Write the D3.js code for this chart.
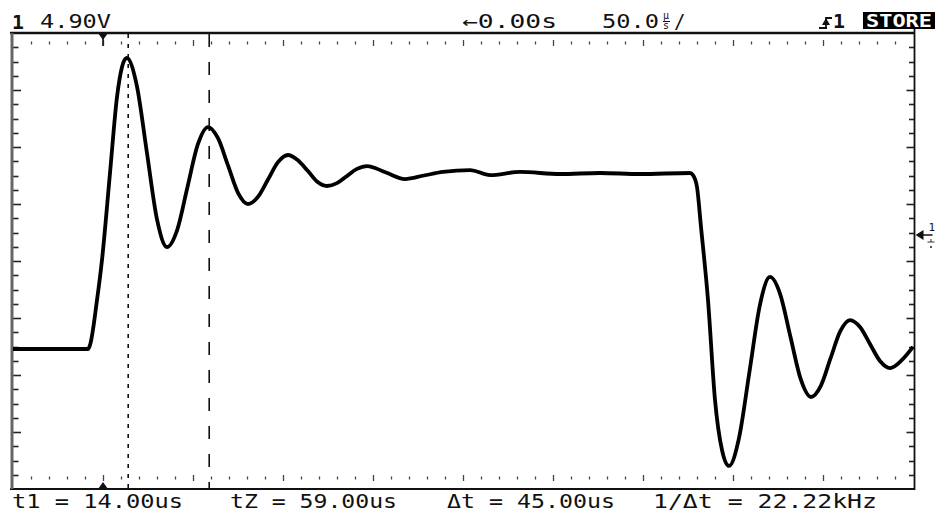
<!DOCTYPE html>
<html>
<head>
<meta charset="utf-8">
<script src="https://cdn.jsdelivr.net/npm/d3@7"></script>
<style>
  body { margin: 0; background: #fff; }
  svg { display: block; }
  text { font-family: "DejaVu Sans Mono", "Liberation Mono", monospace; fill: #111; }
</style>
</head>
<body>
<div id="scope"></div>
<script>
const SVG_WIDTH = 938;
const SVG_HEIGHT = 515;

// sweep: 50 us/div, 10 divs, trigger 1 div in from the left
const TIME_DOMAIN = [-50, 450];   // us
const VOLT_DOMAIN = [-20, 20];    // V, 8 divs
const X_DIVS = 10, X_MINOR = 5;
const Y_DIVS = 8, Y_MINOR = 4;

// trace (time in us, volts)
const timeUs = [-50, -8.33, -7.22, -3.33, -0.56, 3.89, 7.78, 10.56, 13.17, 18.78, 24.39, 30.0, 35.56,
  41.28, 46.94, 52.67, 58.33, 63.89, 69.44, 75.0, 80.56, 86.11, 91.67, 97.22, 102.78, 107.78, 113.61,
  118.89, 124.44, 130.0, 135.56, 141.11, 146.67, 157.22, 167.78, 178.33, 188.89, 203.89, 215.0, 231.67,
  253.89, 276.11, 298.33, 326.11, 327.78, 330.0, 332.22, 336.11, 340.0, 343.89, 347.78, 353.33, 359.17,
  365.0, 370.56, 376.28, 381.94, 387.67, 393.33, 398.78, 404.17, 409.61, 415.0, 420.56, 426.11, 431.67,
  437.22, 443.89, 450];
const volts = [-7.72, -7.72, -7.37, -3.42, 0.09, 7.72, 14.39, 17.02, 17.81, 15.39, 9.52, 3.65, 1.23,
  2.76, 6.49, 10.22, 11.75, 10.77, 8.38, 5.98, 5.0, 5.63, 7.15, 8.67, 9.30, 8.90, 7.94,
  6.97, 6.58, 6.83, 7.46, 8.08, 8.33, 7.76, 7.19, 7.50, 7.81, 7.98, 7.54, 7.81,
  7.63, 7.72, 7.63, 7.72, 7.54, 6.49, 2.98, -3.42, -12.19, -16.58, -17.98, -15.53, -9.69,
  -3.82, -1.40, -2.94, -6.67, -10.39, -11.93, -10.95, -8.55, -6.16, -5.18, -5.79, -7.28, -8.77,
  -9.39, -8.68, -7.54];

// cursors
const cursorTimes = [14, 59];
const cursorDash = ["4,6", "13,15"];

// screen annotations
const bottomLabels = ["t1 = 14.00us", "tZ = 59.00us", "\u0394t = 45.00us", "1/\u0394t = 22.22kHz"];
const bottomLabelX = [12, 230, 447, 653];
const bottomLabelW = [171, 167, 168, 224];

var svg = d3.select("#scope")
    .append("svg")
    .attr("width", SVG_WIDTH)
    .attr("height", SVG_HEIGHT);

svg.append("rect").attr("width", SVG_WIDTH).attr("height", SVG_HEIGHT).attr("fill", "#fff");

var x = d3.scaleLinear().domain(TIME_DOMAIN).range([13, 913]);
var y = d3.scaleLinear().domain(VOLT_DOMAIN).range([489, 33]);

var xLeft = x.range()[0], xRight = x.range()[1] + 1.5;
var yTop = y.range()[1], yBottom = y.range()[0];

////////// graticule //////////

var xStep = (TIME_DOMAIN[1] - TIME_DOMAIN[0]) / (X_DIVS * X_MINOR);
var xTicks = d3.range(0, X_DIVS * X_MINOR + 1).map(function(i) { return TIME_DOMAIN[0] + i * xStep; });
var yStep = (VOLT_DOMAIN[1] - VOLT_DOMAIN[0]) / (Y_DIVS * Y_MINOR);
var yTicks = d3.range(0, Y_DIVS * Y_MINOR + 1).map(function(i) { return VOLT_DOMAIN[0] + i * yStep; });

var grat = svg.append("g").attr("class", "graticule");

// top and bottom rows of little marks
[yTop + 10, yBottom - 11].forEach(function(rowY) {
    grat.selectAll(null)
        .data(xTicks.slice(1, -1))
        .enter()
        .append("line")
        .attr("x1", function(d) { return Math.round(x(d)) + 0.5; })
        .attr("x2", function(d) { return Math.round(x(d)) + 0.5; })
        .attr("y1", function(d, i) { return rowY - ((i + 1) % X_MINOR == 0 ? 3 : 1.5); })
        .attr("y2", function(d, i) { return rowY + ((i + 1) % X_MINOR == 0 ? 3 : 1.5); })
        .attr("stroke", "#444")
        .attr("stroke-width", 1.3);
});

// side ticks
[[xLeft, 1], [xRight, -1]].forEach(function(side) {
    grat.selectAll(null)
        .data(yTicks.slice(1, -1))
        .enter()
        .append("line")
        .attr("x1", side[0])
        .attr("x2", function(d, i) { return side[0] + side[1] * ((i + 1) % Y_MINOR == 0 ? 8 : 5.5); })
        .attr("y1", function(d) { return Math.round(y(d)) + 0.5; })
        .attr("y2", function(d) { return Math.round(y(d)) + 0.5; })
        .attr("stroke", "#222")
        .attr("stroke-width", 1.6);
});

// frame
grat.append("line").attr("x1", 10).attr("x2", xRight).attr("y1", yTop).attr("y2", yTop)
    .attr("stroke", "#111").attr("stroke-width", 2.4);
grat.append("line").attr("x1", 10).attr("x2", xRight).attr("y1", yBottom).attr("y2", yBottom)
    .attr("stroke", "#111").attr("stroke-width", 2);
grat.append("line").attr("x1", 12).attr("x2", 12).attr("y1", yTop).attr("y2", yBottom)
    .attr("stroke", "#666").attr("stroke-width", 3);
grat.append("line").attr("x1", xRight).attr("x2", xRight).attr("y1", 28).attr("y2", yBottom + 1)
    .attr("stroke", "#111").attr("stroke-width", 1.8);

// trigger position markers
var tx = x(0);
svg.append("path")
    .attr("d", "M" + (tx - 5) + "," + yTop + "L" + (tx + 5) + "," + yTop + "L" + tx + "," + (yTop + 7) + "Z")
    .attr("fill", "#111");
svg.append("line").attr("x1", tx).attr("x2", tx).attr("y1", yTop).attr("y2", yTop + 13)
    .attr("stroke", "#111").attr("stroke-width", 1.5);
svg.append("path")
    .attr("d", "M" + (tx - 5) + "," + yBottom + "L" + (tx + 5) + "," + yBottom + "L" + tx + "," + (yBottom - 7) + "Z")
    .attr("fill", "#111");

////////// cursors //////////

svg.selectAll(".cursor")
    .data(cursorTimes)
    .enter()
    .append("line")
    .attr("class", "cursor")
    .attr("x1", function(d) { return x(d); })
    .attr("x2", function(d) { return x(d); })
    .attr("y1", yTop + 1)
    .attr("y2", yBottom)
    .attr("stroke", "#111")
    .attr("stroke-width", 1.6)
    .attr("stroke-dasharray", function(d, i) { return cursorDash[i]; });

////////// trace //////////

var trace = d3.zip(timeUs, volts);
var line = d3.line()
    .x(function(d) { return x(d[0]); })
    .y(function(d) { return y(d[1]); })
    .curve(d3.curveMonotoneX);

svg.append("path")
    .datum(trace)
    .attr("d", line)
    .attr("fill", "none")
    .attr("stroke", "#000")
    .attr("stroke-width", 3.8)
    .attr("stroke-linejoin", "round");

////////// ground / level marker on the right //////////

var gy = 235;
svg.append("path")
    .attr("d", "M" + (xRight + 1) + "," + gy + "L" + (xRight + 9) + "," + (gy - 5) + "L" + (xRight + 9) + "," + (gy + 5) + "Z")
    .attr("fill", "#111");
svg.append("line").attr("x1", xRight + 8).attr("x2", xRight + 18).attr("y1", gy).attr("y2", gy)
    .attr("stroke", "#111").attr("stroke-width", 1.5);
svg.append("text").attr("x", xRight + 14).attr("y", gy - 4).attr("font-size", 11).text("1");
svg.append("line").attr("x1", xRight + 13).attr("x2", xRight + 20).attr("y1", gy + 7).attr("y2", gy + 7)
    .attr("stroke", "#333").attr("stroke-width", 1);
svg.append("line").attr("x1", xRight + 16.5).attr("x2", xRight + 16.5).attr("y1", gy + 4).attr("y2", gy + 7)
    .attr("stroke", "#333").attr("stroke-width", 1);
svg.append("rect").attr("x", xRight + 15.5).attr("y", gy + 11).attr("width", 2).attr("height", 2).attr("fill", "#555");

////////// header text //////////

svg.append("text").attr("x", 12).attr("y", 29).attr("font-size", 20).attr("font-weight", "bold")
    .attr("textLength", 12).attr("lengthAdjust", "spacingAndGlyphs").text("1");
svg.append("text").attr("x", 40).attr("y", 28).attr("font-size", 19)
    .attr("textLength", 71).attr("lengthAdjust", "spacingAndGlyphs").text("4.90V");
svg.append("text").attr("x", 462).attr("y", 28).attr("font-size", 19)
    .attr("textLength", 95).attr("lengthAdjust", "spacingAndGlyphs").text("\u21900.00s");

// 50.0 us/div with the stacked micro-seconds glyph
var sweep = svg.append("text").attr("x", 602).attr("y", 28).attr("font-size", 19);
sweep.append("tspan").attr("textLength", 57).attr("lengthAdjust", "spacingAndGlyphs").text("50.0");
sweep.append("tspan").attr("x", 663).attr("y", 19).attr("font-size", 10).text("\u00b5");
sweep.append("tspan").attr("x", 663).attr("y", 29).attr("font-size", 10).text("s");
sweep.append("tspan").attr("x", 674).attr("y", 28).text("/");
svg.append("line").attr("x1", 663).attr("x2", 670).attr("y1", 21.5).attr("y2", 21.5).attr("stroke", "#111").attr("stroke-width", 1);

// trigger slope symbol
svg.append("path")
    .attr("d", "M819,28 L827,28 M826,28 L826,18 L832,18")
    .attr("stroke", "#111").attr("stroke-width", 1.8).attr("fill", "none");
svg.append("path")
    .attr("d", "M822,25 L826,18 L830,25 Z")
    .attr("fill", "#111");
svg.append("text").attr("x", 833).attr("y", 28).attr("font-size", 19).attr("font-weight", "bold")
    .attr("textLength", 12).attr("lengthAdjust", "spacingAndGlyphs").text("1");

// STORE badge
svg.append("rect").attr("x", 863).attr("y", 12).attr("width", 72).attr("height", 17).attr("fill", "#000");
svg.append("text").attr("x", 866).attr("y", 27).attr("font-size", 17).attr("font-weight", "bold")
    .attr("textLength", 66).attr("lengthAdjust", "spacingAndGlyphs")
    .style("fill", "#fff").text("STORE");

////////// cursor readout //////////

svg.selectAll(".readout")
    .data(bottomLabels)
    .enter()
    .append("text")
    .attr("class", "readout")
    .attr("x", function(d, i) { return bottomLabelX[i]; })
    .attr("y", 508)
    .attr("font-size", 19)
    .attr("textLength", function(d, i) { return bottomLabelW[i]; })
    .attr("lengthAdjust", "spacingAndGlyphs")
    .text(function(d) { return d; });
</script>
</body>
</html>
